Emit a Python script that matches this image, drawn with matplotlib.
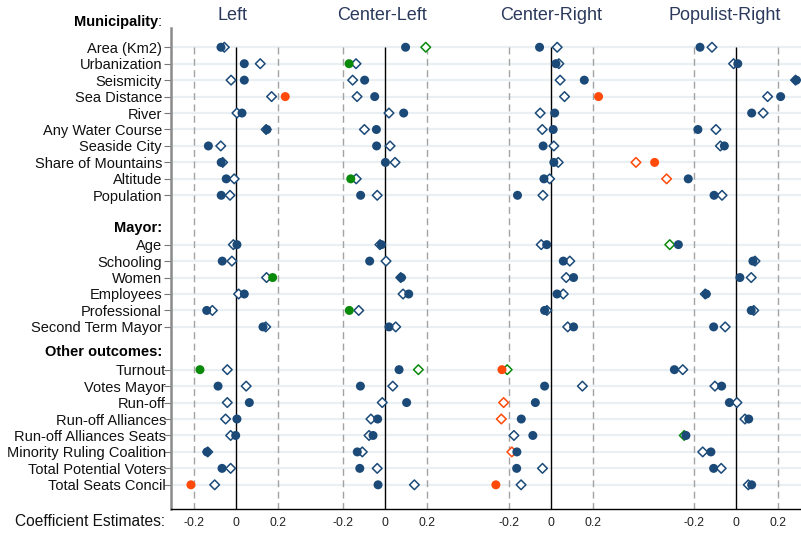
import matplotlib
matplotlib.use("Agg")
import matplotlib.pyplot as plt
import matplotlib.transforms as mtrans

plt.rcParams['font.family'] = ['Liberation Sans', 'DejaVu Sans']

# ---------------- data ----------------
variables = ["Area (Km2)", "Urbanization", "Seismicity", "Sea Distance", "River",
             "Any Water Course", "Seaside City", "Share of Mountains", "Altitude", "Population",
             "Age", "Schooling", "Women", "Employees", "Professional", "Second Term Mayor",
             "Turnout", "Votes Mayor", "Run-off", "Run-off Alliances", "Run-off Alliances Seats",
             "Minority Ruling Coalition", "Total Potential Voters", "Total Seats Concil"]
groups = ["Municipality", "Mayor:", "Other outcomes:"]
group_sizes = [10, 6, 8]
panels = ["Left", "Center-Left", "Center-Right", "Populist-Right"]
tick_values = [-0.2, 0.0, 0.2]
tick_labels = ["-0.2", "0", "0.2"]

left_dot = [-0.070, 0.041, 0.041, 0.236, 0.030, 0.149, -0.130, -0.069, -0.045, -0.069,
            0.006, -0.064, 0.176, 0.041, -0.138, 0.130,
            -0.170, -0.084, 0.065, 0.006, 0.000, -0.137, -0.065, -0.213]
left_dia = [-0.054, 0.117, -0.022, 0.171, 0.006, 0.145, -0.071, -0.062, -0.007, -0.027,
            -0.011, -0.018, 0.147, 0.014, -0.111, 0.143,
            -0.040, 0.050, -0.040, -0.048, -0.024, -0.133, -0.024, -0.100]
cl_dot = [0.098, -0.171, -0.097, -0.049, 0.089, -0.041, -0.040, 0.002, -0.163, -0.116,
          -0.017, -0.073, 0.078, 0.113, -0.170, 0.019,
          0.067, -0.117, 0.103, -0.035, -0.057, -0.132, -0.120, -0.033]
cl_dia = [0.194, -0.138, -0.154, -0.133, 0.019, -0.098, 0.024, 0.048, -0.137, -0.037,
          -0.024, 0.005, 0.075, 0.086, -0.125, 0.051,
          0.159, 0.037, -0.013, -0.067, -0.076, -0.108, -0.037, 0.140]
cr_dot = [-0.054, 0.024, 0.159, 0.227, 0.018, 0.011, -0.037, 0.014, -0.033, -0.159,
          -0.020, 0.059, 0.108, 0.029, -0.030, 0.108,
          -0.233, -0.030, -0.074, -0.141, -0.086, -0.162, -0.163, -0.262]
cr_dia = [0.030, 0.038, 0.044, 0.065, -0.051, -0.041, 0.014, 0.035, -0.006, -0.038,
          -0.046, 0.090, 0.073, 0.059, -0.019, 0.080,
          -0.208, 0.150, -0.225, -0.236, -0.176, -0.186, -0.040, -0.142]
pr_dot = [-0.170, 0.010, 0.289, 0.214, 0.076, -0.180, -0.054, -0.386, -0.226, -0.103,
          -0.273, 0.082, 0.020, -0.140, 0.074, -0.105,
          -0.292, -0.067, -0.030, 0.062, -0.237, -0.118, -0.105, 0.076]
pr_dia = [-0.113, -0.010, 0.285, 0.152, 0.131, -0.094, -0.073, -0.475, -0.329, -0.065,
          -0.314, 0.092, 0.074, -0.145, 0.086, -0.050,
          -0.252, -0.099, 0.006, 0.044, -0.245, -0.157, -0.069, 0.060]

# highlighted estimates: index -> 'g' (green) / 'o' (orange)
left_dot_hl = {3: 'o', 12: 'g', 16: 'g', 23: 'o'}
left_dia_hl = {}
cl_dot_hl = {1: 'g', 8: 'g', 14: 'g'}
cl_dia_hl = {0: 'g', 16: 'g'}
cr_dot_hl = {3: 'o', 16: 'o', 23: 'o'}
cr_dia_hl = {16: 'g', 18: 'o', 19: 'o', 21: 'o'}
pr_dot_hl = {7: 'o'}
pr_dia_hl = {7: 'o', 8: 'o', 10: 'g', 20: 'g'}

dots = [left_dot, cl_dot, cr_dot, pr_dot]
dias = [left_dia, cl_dia, cr_dia, pr_dia]
dots_hl = [left_dot_hl, cl_dot_hl, cr_dot_hl, pr_dot_hl]
dias_hl = [left_dia_hl, cl_dia_hl, cr_dia_hl, pr_dia_hl]

# ---------------- layout ----------------
NAVY = "#1b4a78"
COLORS = {'n': NAVY, 'g': "#0a8a0a", 'o': "#ff4a0a"}
TITLE_C = "#2b3a5c"

offsets = [0.0, 0.711, 1.501, 2.381]      # horizontal shift of each panel
title_dx = [-0.013, -0.015, 0.003, -0.051]

# y positions of variables (row units), with gaps for group headings
y_pos = list(range(0, 10)) + list(range(12, 18)) + [19.6 + i for i in range(8)]
header_y = [-1.54, 11.0, 18.5]

fig = plt.figure(figsize=(8.01, 5.34), dpi=100)
W, H = 801, 534
ax = fig.add_axes([171 / W, 1 - 509 / H, 630 / W, 481 / H])
ax.set_xlim(-0.308, 2.692)
ax.set_ylim(28.07, -1.17)

# horizontal grid lines at each variable
for y in y_pos:
    ax.axhline(y, color="#e9eff3", lw=1.6, zorder=0)

# vertical reference lines
for off in offsets:
    ax.vlines(off, 0, 28.07, color="black", lw=1.0, zorder=1)
    for t in (-0.2, 0.2):
        ax.vlines(off + t, 0, 28.07, color="#a3a3a3", lw=1.0,
                  linestyles=(0, (5, 3.2)), zorder=1)

# markers
for k, off in enumerate(offsets):
    xs_dia = [off + v for v in dias[k]]
    cols = [COLORS[dias_hl[k].get(i, 'n')] for i in range(len(variables))]
    ax.scatter(xs_dia, y_pos, marker="D", s=24, facecolors="white",
               edgecolors=cols, linewidths=1.1, zorder=3, clip_on=False)
    xs_dot = [off + v for v in dots[k]]
    cols = [COLORS[dots_hl[k].get(i, 'n')] for i in range(len(variables))]
    ax.scatter(xs_dot, y_pos, marker="o", s=42, c=cols, linewidths=0, zorder=4,
               clip_on=False)
    ax.text(off + title_dx[k], -1.9, panels[k], ha="center", va="center",
            fontsize=13, color=TITLE_C, clip_on=False)

# spines
for s in ("top", "right"):
    ax.spines[s].set_visible(False)
ax.spines["left"].set_color("#8a8a8a")
ax.spines["left"].set_linewidth(1.8)
ax.spines["bottom"].set_color("black")
ax.spines["bottom"].set_linewidth(1.0)

# y ticks
ax.set_yticks(y_pos)
ax.set_yticklabels(variables, fontsize=10.5, color="#111111")
ax.tick_params(axis="y", length=5, width=0.8, color="#777777", pad=1.5)
for i, lab in enumerate(ax.get_yticklabels()):
    if i >= 16:
        lab.set_transform(lab.get_transform() +
                          mtrans.ScaledTranslation(4 / 100, 0, fig.dpi_scale_trans))

# x ticks
xt, xl = [], []
for off in offsets:
    for v, l in zip(tick_values, tick_labels):
        xt.append(off + v)
        xl.append(l)
ax.set_xticks(xt)
ax.set_xticklabels(xl, fontsize=8.8, color="#222222")
ax.tick_params(axis="x", length=0, pad=6)

# group headings
tr = mtrans.blended_transform_factory(ax.transAxes, ax.transData)
ax.text(-0.0205, header_y[0], groups[0], transform=tr, ha="right", va="center",
        fontsize=10.5, fontweight="bold", clip_on=False)
ax.text(-0.0150, header_y[0], ":", transform=tr, ha="right", va="center",
        fontsize=10.5, clip_on=False)
for g, y in zip(groups[1:], header_y[1:]):
    ax.text(-0.0145, y, g, transform=tr, ha="right", va="center",
            fontsize=10.5, fontweight="bold", clip_on=False)

fig.text(165 / W, 1 - 522 / H, "Coefficient Estimates:", ha="right", va="center",
         fontsize=11.2, color="#111111")

fig.savefig("out.png", dpi=100)
